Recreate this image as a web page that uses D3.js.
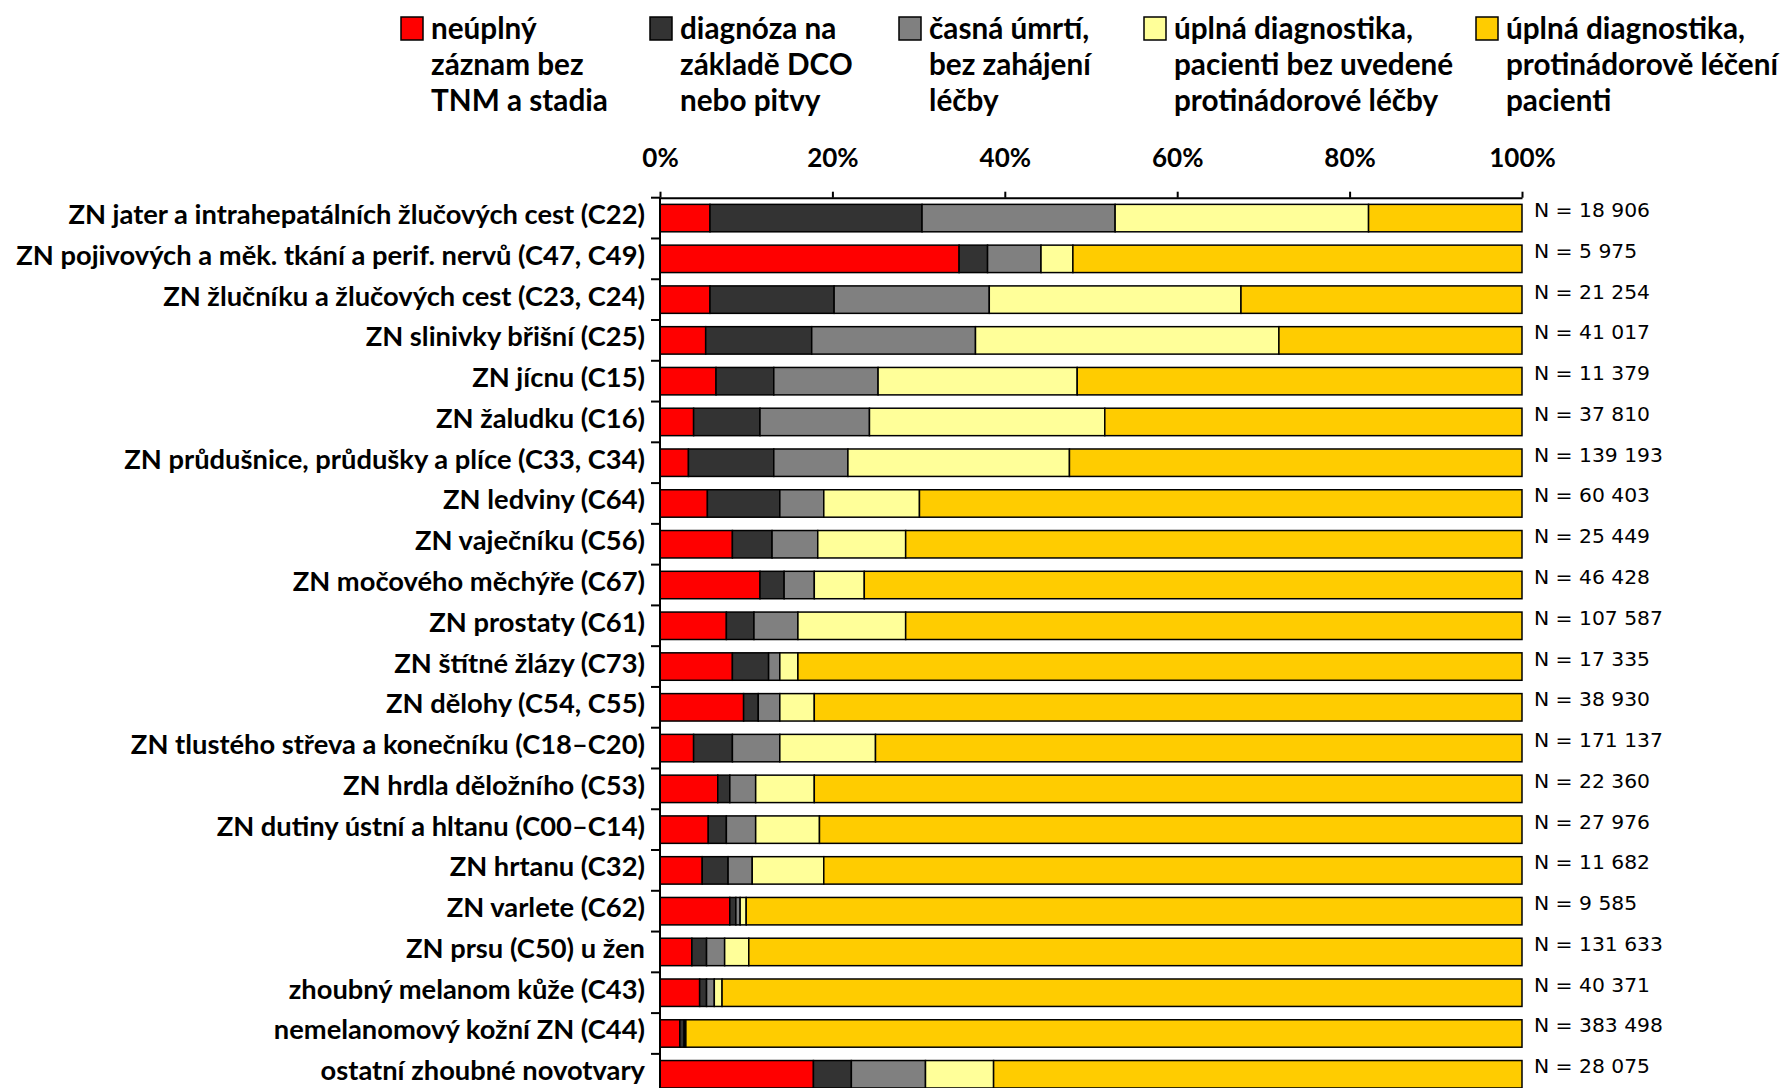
<!DOCTYPE html>
<html>
<head>
<meta charset="utf-8">
<script src="https://cdn.jsdelivr.net/npm/d3@7/dist/d3.min.js"></script>
<style>
  html, body { margin: 0; padding: 0; background: #fff; }
  svg { display: block; }
  .lbl { font-family: Lato, "Open Sans", sans-serif; font-weight: 700; fill: #000; }
  .nlbl { font-family: "DejaVu Sans", Verdana, sans-serif; fill: #000; }
</style>
</head>
<body>
<svg id="chart" width="1787" height="1088"></svg>
<script>
// Diagnostic categories (top to bottom)
const categories = [
  "ZN jater a intrahepatálních žlučových cest (C22)",
  "ZN pojivových a měk. tkání a perif. nervů (C47, C49)",
  "ZN žlučníku a žlučových cest (C23, C24)",
  "ZN slinivky břišní (C25)",
  "ZN jícnu (C15)",
  "ZN žaludku (C16)",
  "ZN průdušnice, průdušky a plíce (C33, C34)",
  "ZN ledviny (C64)",
  "ZN vaječníku (C56)",
  "ZN močového měchýře (C67)",
  "ZN prostaty (C61)",
  "ZN štítné žlázy (C73)",
  "ZN dělohy (C54, C55)",
  "ZN tlustého střeva a konečníku (C18–C20)",
  "ZN hrdla děložního (C53)",
  "ZN dutiny ústní a hltanu (C00–C14)",
  "ZN hrtanu (C32)",
  "ZN varlete (C62)",
  "ZN prsu (C50) u žen",
  "zhoubný melanom kůže (C43)",
  "nemelanomový kožní ZN (C44)",
  "ostatní zhoubné novotvary"
];

// Number of cases per category
const counts = [18906, 5975, 21254, 41017, 11379, 37810, 139193, 60403, 25449, 46428,
  107587, 17335, 38930, 171137, 22360, 27976, 11682, 9585, 131633, 40371, 383498, 28075];

// Shares (%) per series
const neuplny   = [5.8, 34.7, 5.8, 5.3, 6.5, 3.9, 3.3, 5.5, 8.4, 11.6, 7.7, 8.4, 9.7, 3.9, 6.7, 5.6, 4.9, 8.1, 3.7, 4.6, 2.3, 17.8];
const dco       = [24.6, 3.3, 14.4, 12.3, 6.7, 7.7, 9.9, 8.4, 4.6, 2.8, 3.2, 4.2, 1.7, 4.5, 1.4, 2.1, 3.0, 0.7, 1.7, 0.8, 0.5, 4.4];
const casna     = [22.4, 6.2, 18.0, 19.0, 12.1, 12.7, 8.6, 5.1, 5.3, 3.5, 5.1, 1.3, 2.5, 5.5, 3.0, 3.4, 2.8, 0.5, 2.1, 0.9, 0.1, 8.6];
const bezLecby  = [29.4, 3.7, 29.2, 35.2, 23.1, 27.3, 25.7, 11.1, 10.2, 5.8, 12.5, 2.1, 4.0, 11.1, 6.8, 7.4, 8.3, 0.7, 2.8, 0.9, 0.1, 7.9];
const leceni    = [17.8, 52.1, 32.6, 28.2, 51.6, 48.4, 52.5, 69.9, 71.5, 76.3, 71.5, 84.0, 82.1, 75.0, 82.1, 81.5, 81.0, 90.0, 89.7, 92.8, 97.0, 61.3];

const seriesKeys = ["neuplny", "dco", "casna", "bezLecby", "leceni"];
const seriesNames = [
  ["neúplný", "záznam bez", "TNM a stadia"],
  ["diagnóza na", "základě DCO", "nebo pitvy"],
  ["časná úmrtí,", "bez zahájení", "léčby"],
  ["úplná diagnostika,", "pacienti bez uvedené", "protinádorové léčby"],
  ["úplná diagnostika,", "protinádorově léčení", "pacienti"]
];
const seriesColors = ["#FF0000", "#333333", "#808080", "#FFFF99", "#FFCC00"];
const tickValues = [0, 20, 40, 60, 80, 100];

const rows = categories.map((c, i) => ({
  category: c, n: counts[i],
  neuplny: neuplny[i], dco: dco[i], casna: casna[i], bezLecby: bezLecby[i], leceni: leceni[i]
}));

const svg = d3.select("#chart");

const x = d3.scaleLinear().domain([0, 100]).range([660, 1522]);
const y = d3.scaleBand().domain(categories).range([197.7, 197.7 + 22 * 40.77])
  .paddingInner(0.327).paddingOuter(0.1635);
const color = d3.scaleOrdinal().domain(seriesKeys).range(seriesColors);

const stacked = d3.stack().keys(seriesKeys)(rows);

// Stacked bars
svg.append("g").selectAll("g").data(stacked).join("g")
  .attr("fill", d => color(d.key))
  .selectAll("rect").data(d => d).join("rect")
  .attr("x", d => x(d[0]))
  .attr("y", d => y(d.data.category))
  .attr("width", d => Math.max(0, x(d[1]) - x(d[0])))
  .attr("height", y.bandwidth())
  .attr("stroke", "#000")
  .attr("stroke-width", 1.5);

// Top percentage axis
const xAxis = svg.append("g")
  .attr("transform", `translate(0,${y.range()[0]})`)
  .call(d3.axisTop(x).tickValues(tickValues).tickFormat(d => d + "%")
    .tickSizeInner(6).tickSizeOuter(0).tickPadding(25));
xAxis.select(".domain").attr("stroke", "#000").attr("stroke-width", 2);
xAxis.selectAll(".tick line").attr("stroke", "#000").attr("stroke-width", 2);
xAxis.selectAll(".tick text").attr("class", "lbl").attr("font-size", 26)
  .style("font-family", "Lato, sans-serif").style("font-weight", 700);

// Left category axis: line and ticks at band boundaries
const yAxis = svg.append("g");
const step = y.step();
const y0 = y.range()[0];
yAxis.append("line")
  .attr("x1", x(0)).attr("x2", x(0))
  .attr("y1", y0).attr("y2", y0 + step * categories.length)
  .attr("stroke", "#000").attr("stroke-width", 2);
yAxis.selectAll("line.tick").data(d3.range(categories.length + 1)).join("line")
  .attr("class", "tick")
  .attr("x1", x(0) - 9).attr("x2", x(0))
  .attr("y1", i => y0 + i * step).attr("y2", i => y0 + i * step)
  .attr("stroke", "#000").attr("stroke-width", 2);

// Category labels
svg.append("g").selectAll("text").data(categories).join("text")
  .attr("class", "lbl")
  .attr("x", x(0) - 15)
  .attr("y", d => y(d) + y.bandwidth() / 2 + 6)
  .attr("text-anchor", "end")
  .attr("font-size", 27.3)
  .text(d => d);

// Case counts on the right
const fmt = n => "N = " + d3.format(",")(n).replace(/,/g, " ");
svg.append("g").selectAll("text").data(rows).join("text")
  .attr("class", "nlbl")
  .attr("x", x(100) + 12)
  .attr("y", d => y(d.category) + y.bandwidth() / 2 - 1)
  .attr("font-size", 20.3)
  .text(d => fmt(d.n));

// Legend
const legendX = [401, 650, 899, 1144, 1476];
const legend = svg.append("g").selectAll("g").data(seriesKeys).join("g")
  .attr("transform", (d, i) => `translate(${legendX[i]},0)`);
legend.append("rect")
  .attr("x", 0).attr("y", 17).attr("width", 22).attr("height", 23)
  .attr("fill", d => color(d)).attr("stroke", "#000").attr("stroke-width", 1.5);
legend.append("text")
  .attr("class", "lbl").attr("font-size", 29.7)
  .selectAll("tspan").data((d, i) => seriesNames[i]).join("tspan")
  .attr("x", 30).attr("y", (d, j) => 39 + j * 36)
  .text(d => d);
</script>
</body>
</html>
